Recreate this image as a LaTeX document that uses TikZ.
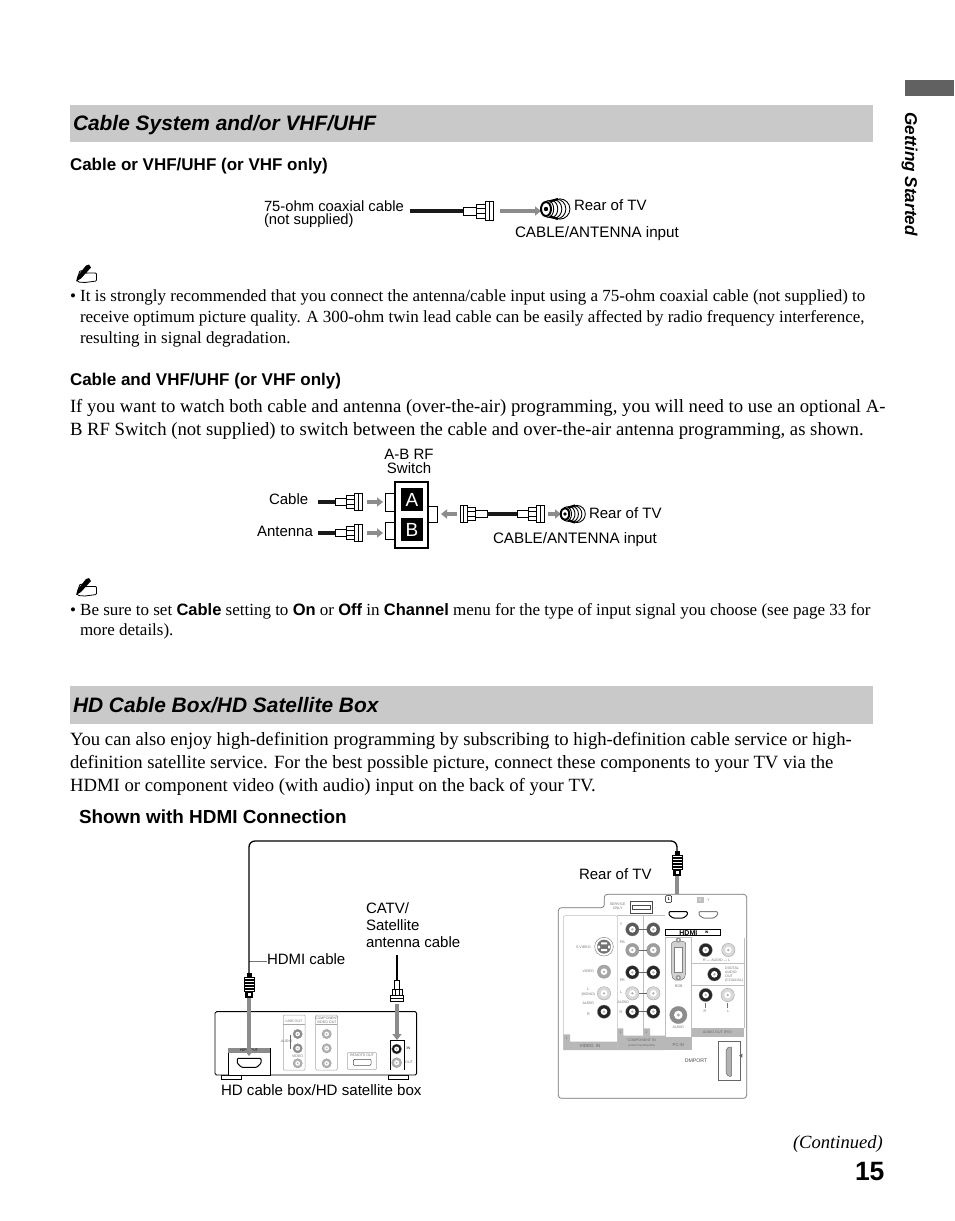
\documentclass[tikz,border=0pt]{standalone}
\usepackage{fontspec}
\setmainfont{Liberation Serif}
\setsansfont{Liberation Sans}
\usetikzlibrary{arrows.meta}
\definecolor{band}{gray}{0.79}
\definecolor{garr}{gray}{0.55}
\newcommand{\bodyf}{\fontsize{18.7}{22}\selectfont}
\newcommand{\notef}{\fontsize{17}{20}\selectfont}
\newcommand{\lab}{\fontsize{15}{15}\selectfont\sffamily}
\newcommand{\tny}{\fontsize{3.6}{4}\selectfont\sffamily}
\newcommand{\bsf}[1]{{\fontsize{16.5}{20}\selectfont\sffamily\bfseries #1}}
\tikzset{
  x=1pt,y=-1pt,
  txt/.style={anchor=base west,inner sep=0pt,outer sep=0pt},
  bandbox/.style={fill=band,draw=none},
  sect/.style={txt,font=\fontsize{20.9}{24}\selectfont\sffamily\bfseries\itshape},
  subh/.style={txt,font=\fontsize{17}{20}\selectfont\sffamily\bfseries},
  body/.style={txt,font=\bodyf},
  notet/.style={txt,font=\notef},
  labt/.style={txt,font=\lab},
  tinyt/.style={inner sep=0pt,font=\tny,text=black!55},
  garrow/.style={draw=garr,line width=3.6pt,-{Triangle[length=6pt,width=9pt]},shorten >=0pt},
  fconn/.pic={
    \draw[line width=.8pt,fill=white] (0,-4) rectangle (13,4);
    \draw[line width=.8pt,fill=white] (13,-7) rectangle (23,7);
    \draw[line width=.6pt] (13,-3) -- (23,-3) (13,2) -- (23,2);
    \draw[line width=.8pt,fill=white] (22,-9.5) rectangle (30,9.5);
    \draw[line width=.6pt] (26,-9.5) -- (26,9.5);
  },
  rearjack/.pic={
    \foreach \i in {14,11,8,5,2}{
      \draw[line width=.9pt,fill=white] (\i,0) ellipse ({5+\i*.35} and {8+\i*.15});
    }
    \draw[line width=2pt,fill=white] (0,0) ellipse (5 and 7);
    \fill (0,0) circle (2.2);
    \draw[line width=2.2pt] (4,-7.5) -- (12,-10) (4,7.5) -- (12,10);
  },
  hdmiplug/.pic={
    \fill (-2.5,-1) rectangle (2.5,3);
    \draw[line width=.8pt,fill=white] (-5,3) rectangle (5,17);
    \foreach \yy in {6,9,12,15}{\draw[line width=1.3pt] (-5,\yy) -- (5,\yy);}
    \fill (-3.6,17) rectangle (3.6,24);
    \fill[white] (-1.5,19) rectangle (1.5,22);
  },
  notehand/.pic={
    \draw[line width=.8pt,fill=white,rounded corners=1pt] (2,15) -- (5,6) -- (10,7) -- (11,8.5) -- (21.5,8.5) -- (21.5,16.5) -- (10,18) -- (3,17.5) -- cycle;
    \fill (14,0) -- (16,3) -- (6,14) -- (1,17) -- (3,11) -- (11,1) -- cycle;
  }
}
% RCA jack in 1/3 px coordinates: x, y, radius, ring colour
\newcommand{\jack}[4]{%
  \fill[#4] (#1,#2) circle (#3);
  \fill[white] (#1,#2) circle ({#3*.5});
  \draw[black!45,line width=.25pt] (#1,#2) circle (#3);
  \fill[black!30] (#1,#2) circle ({#3*.2});
}
\begin{document}
\begin{tikzpicture}
\useasboundingbox (0,0) rectangle (954,1221);
\fill[white] (0,0) rectangle (954,1221);

% side tab
\fill[black!62] (905,80) rectangle (954,96);
\node[font=\fontsize{17.1}{18}\selectfont\sffamily\bfseries\itshape,rotate=-90,anchor=base west,inner sep=0pt] (side) at (905,112) {Getting Started};

% section 1
\fill[bandbox] (70,105) rectangle (873,142);
\node[sect] (s1) at (73,130) {Cable System and/or VHF/UHF};
\node[subh] (h1) at (70,170) {Cable or VHF/UHF (or VHF only)};

% coax diagram 1
\node[labt,font=\fontsize{14.8}{15}\selectfont\sffamily] (l1a) at (264,211) {75-ohm coaxial cable};
\node[labt,font=\fontsize{14.8}{15}\selectfont\sffamily] (l1b) at (264,224) {(not supplied)};
\node[labt] (l1c) at (574,210) {Rear of TV};
\node[labt,font=\fontsize{15.2}{15}\selectfont\sffamily] (l1d) at (515,237) {CABLE/ANTENNA input};
\coordinate (c1s) at (410,211);
\coordinate (c1e) at (463,211);
\draw[line width=3.6pt,black!90] (c1s) -- (c1e);
\pic at (c1e) {fconn};
\coordinate (a1s) at (500,211);
\coordinate (a1e) at (541,211);
\draw[garrow] (a1s) -- (a1e);
\pic at (546,209) {rearjack};

% note 1
\pic at (75,264.5) {notehand};
\node[notet] (t1) at (70,301) {• It is strongly recommended that you connect the antenna/cable input using a 75-ohm coaxial cable (not supplied) to};
\node[notet] (t2) at (80,322) {receive optimum picture quality. A 300-ohm twin lead cable can be easily affected by radio frequency interference,};
\node[notet] (t3) at (80,343) {resulting in signal degradation.};

\node[subh] (h2) at (70,385) {Cable and VHF/UHF (or VHF only)};
\node[body] (b1) at (70,412) {If you want to watch both cable and antenna (over-the-air) programming, you will need to use an optional A-};
\node[body] (b2) at (70,435) {B RF Switch (not supplied) to switch between the cable and over-the-air antenna programming, as shown.};

% A-B switch
\node[labt,anchor=base] (s1a) at (409,459) {A-B RF};
\node[labt,anchor=base] (s1b) at (409,473) {Switch};
\node[labt] (lc) at (269,504) {Cable};
\node[labt] (la) at (257,536) {Antenna};
\draw[line width=1pt,fill=white] (385,493) rectangle (395,511);
\draw[line width=1pt,fill=white] (385,522) rectangle (395,539);
\draw[line width=1pt,fill=white] (428,506) rectangle (437,522);
\draw[line width=1.3pt,fill=white] (395,482) rectangle (428,548);
\node[fill=black,text=white,minimum width=22pt,minimum height=23pt,inner sep=0pt,font=\fontsize{19}{20}\selectfont\sffamily] (A) at (412,499.5) {A};
\node[fill=black,text=white,minimum width=22pt,minimum height=23pt,inner sep=0pt,font=\fontsize{19}{20}\selectfont\sffamily] (B) at (412,529.5) {B};
\coordinate (cs) at (318,502); \coordinate (ce) at (335,502);
\draw[line width=3.4pt,black!90] (cs) -- (ce);
\pic[scale=.9] at (ce) {fconn};
\coordinate (as) at (318,533); \coordinate (ae) at (335,533);
\draw[line width=3.4pt,black!90] (as) -- (ae);
\pic[scale=.9] at (ae) {fconn};
\draw[garrow] (367,502) -- (383,502);
\draw[garrow] (367,533) -- (383,533);
\draw[garrow] (457,514) -- (441,514);
\coordinate (rs) at (487,514); \coordinate (re) at (517,514);
\pic[xscale=-.9,yscale=.9] at (rs) {fconn};
\draw[line width=3.4pt,black!90] (rs) -- (re);
\pic[scale=.9] at (re) {fconn};
\draw[garrow] (548,514) -- (561,514);
\pic[scale=.85] at (565,514) {rearjack};
\node[labt] (r2) at (589,518) {Rear of TV};
\node[labt,font=\fontsize{15.2}{15}\selectfont\sffamily] (r3) at (493,543) {CABLE/ANTENNA input};

% note 2
\pic at (75,578) {notehand};
\node[notet] (t4) at (70,615) {• Be sure to set \bsf{Cable} setting to \bsf{On} or \bsf{Off} in \bsf{Channel} menu for the type of input signal you choose (see page 33 for};
\node[notet] (t5) at (80,635) {more details).};

% section 2
\fill[bandbox] (70,686) rectangle (873,724);
\node[sect] (s2) at (73,712) {HD Cable Box/HD Satellite Box};
\node[body] (b3) at (70,745) {You can also enjoy high-definition programming by subscribing to high-definition cable service or high-};
\node[body] (b4) at (70,768) {definition satellite service. For the best possible picture, connect these components to your TV via the};
\node[body] (b5) at (70,791) {HDMI or component video (with audio) input on the back of your TV.};
\node[txt,font=\fontsize{18.9}{20}\selectfont\sffamily\bfseries] (h3) at (79,823) {Shown with HDMI Connection};

% labels of lower diagram
\node[labt] (lr) at (579,879) {Rear of TV};
\node[labt] (lh) at (267,964) {HDMI cable};
\node[labt] (lcat1) at (366,913) {CATV/};
\node[labt] (lcat2) at (366,930) {Satellite};
\node[labt] (lcat3) at (366,947) {antenna cable};
\node[labt,font=\fontsize{15.1}{15}\selectfont\sffamily] (lbox) at (221,1095) {HD cable box/HD satellite box};
\coordinate (hl) at (249,961);
\draw[line width=1pt,black!55] (hl) -- (lh.west |- hl);

% HD box, coordinates in 1/3 px
\begin{scope}[shift={(205,960)},x=.33333pt,y=-.33333pt]
  \draw[line width=.7pt] (50,345) rectangle (110,358);
  \draw[line width=.7pt] (550,345) rectangle (610,358);
  \draw[line width=.9pt,fill=white,rounded corners=1.5pt] (30,345) -- (30,155) -- (635,155) -- (635,345) -- cycle;
  % HDMI OUT
  \draw[line width=.5pt,fill=white] (70,265) rectangle (195,345);
  \fill[black!45] (70,265) rectangle (195,280);
  \node[tinyt,text=black] (ho) at (132,272) {HDMI OUT};
  \draw[line width=1pt,fill=white,rounded corners=1pt] (97,295) -- (168,295) -- (168,310) -- (155,322) -- (110,322) -- (97,310) -- cycle;
  % line out
  \draw[black!35,line width=.5pt,rounded corners=1pt] (235,165) rectangle (300,330);
  \draw[black!35,line width=.5pt] (235,192) -- (300,192);
  \node[tinyt] (lo) at (267,183) {LINE OUT};
  \jack{278}{222}{14}{black!45}
  \jack{278}{265}{14}{black!45}
  \jack{278}{310}{14}{black!30}
  \draw[black!60,line width=.4pt] (258,225) -- (255,225) -- (255,265) -- (258,265);
  \node[tinyt] (lo2) at (245,245) {AUDIO};
  \node[tinyt] (lo3) at (278,290) {VIDEO};
  % component
  \draw[black!35,line width=.5pt,rounded corners=1pt] (332,165) rectangle (397,330);
  \draw[black!35,line width=.5pt] (332,192) -- (397,192);
  \node[tinyt,align=center] (co) at (365,180) {COMPONENT\\VIDEO OUT};
  \jack{365}{222}{14}{black!30}
  \jack{365}{265}{14}{black!30}
  \jack{365}{310}{14}{black!30}
  % remote
  \draw[black!35,line width=.5pt,rounded corners=1pt] (427,278) rectangle (515,328);
  \node[tinyt] (re1) at (471,285) {REMOTE OUT};
  \draw[black!70,line width=.5pt,rounded corners=1pt] (445,298) rectangle (498,316);
  % in/out
  \fill[white] (555,242) rectangle (597,330);
  \draw[line width=1pt] (555,330) -- (555,242) -- (597,242) -- (597,330);
  \jack{575}{267}{15}{black!90}
  \jack{575}{308}{15}{black!30}
  \node[tinyt,text=black] (ii) at (610,265) {IN};
  \node[tinyt] (io) at (612,308) {OUT};
\end{scope}

% HDMI cable
\coordinate (p1) at (249,974);
\coordinate (p2) at (677,852);
\draw[line width=1.3pt,rounded corners=6pt] (p1) -- (249,841) -- (677,841) -- (p2);
\pic at (p1) {hdmiplug};
\pic at (p2) {hdmiplug};
\draw[garrow] (249,998) -- (249,1056);
\draw[garrow] (677,876) -- (677,911);

% Coax to box
\coordinate (q1) at (397,955);
\coordinate (q2) at (397,980);
\draw[line width=2.6pt] (q1) -- (q2);
\pic[rotate=-90,scale=.72] at (q2) {fconn};
\draw[garrow] (397,1004) -- (397,1040);

% TV panel, coordinates in 1/3 px
\begin{scope}[shift={(555,885)},x=.33333pt,y=-.33333pt]
  \fill[white] (10,640) rectangle (575,28);
  \draw[black!55,line width=.7pt,rounded corners=3pt] (10,640) -- (10,68) -- (148,68) -- (148,28) -- (575,28) -- (575,640) -- cycle;
  % VIDEO IN
  \draw[black!25,line width=.5pt,rounded corners=1.5pt] (25,495) -- (25,92) -- (187,92) -- (187,495);
  \fill[black!28] (25,495) -- (25,448) -- (45,448) -- (45,470) -- (187,470) -- (187,495) -- cycle;
  \node[tinyt,text=black!60,font=\fontsize{4.4}{5}\selectfont\sffamily] (vin) at (105,483) {VIDEO\ \ IN};
  \node[tinyt] (v1) at (35,460) {1};
  \node[tinyt] (sv) at (85,188) {S VIDEO};
  \node[tinyt] (vd) at (100,260) {VIDEO};
  \node[tinyt] (ml) at (100,312) {L};
  \node[tinyt] (mm) at (100,328) {(MONO)};
  \node[tinyt] (ma) at (100,355) {AUDIO};
  \node[tinyt] (mr) at (100,387) {R};
  \draw[black!45,line width=.5pt,fill=white] (147,185) circle (28);
  \fill[black!55] (147,185) circle (21);
  \fill[white] (138,172) rectangle (156,178) (138,192) rectangle (156,198) (128,182) rectangle (135,190) (159,182) rectangle (166,190);
  \jack{147}{260}{20}{black!35}
  \jack{147}{325}{20}{black!15}
  \jack{147}{380}{20}{black!85}
  % COMPONENT
  \draw[black!25,line width=.5pt,rounded corners=1.5pt] (187,92) -- (330,92) (265,92) -- (265,450);
  \fill[black!28] (187,495) -- (187,430) -- (205,430) -- (205,452) -- (265,452) -- (265,430) -- (285,430) -- (285,452) -- (330,452) -- (330,495) -- cycle;
  \node[tinyt,text=black!60] (cin) at (260,467) {COMPONENT IN};
  \node[tinyt,text=black!60,font=\fontsize{2.6}{3}\selectfont\sffamily] (cin2) at (260,481) {(1080i/720p/480p/480i)};
  \node[tinyt] (c1n) at (197,442) {1};
  \node[tinyt] (c2n) at (275,442) {2};
  \foreach \xx in {232,295}{
    \jack{\xx}{133}{20}{black!65}
    \jack{\xx}{195}{20}{black!38}
    \jack{\xx}{262}{20}{black!85}
    \jack{\xx}{325}{20}{black!15}
    \jack{\xx}{380}{20}{black!85}
  }
  \foreach \yy in {133,195,262,325,380}{\draw[black!60,line width=.4pt] (252,\yy) -- (275,\yy);}
  \node[tinyt] (cy) at (198,118) {Y};
  \node[tinyt] (cb) at (202,172) {PB};
  \node[tinyt] (cr) at (202,285) {PR};
  \node[tinyt] (cl) at (198,322) {L};
  \node[tinyt] (ca) at (205,353) {AUDIO};
  \node[tinyt] (cr2) at (198,383) {R};
  % HDMI
  \draw[line width=.5pt,rounded corners=1pt] (332,32) rectangle (350,52);
  \node[inner sep=0pt,font=\fontsize{4}{5}\selectfont\sffamily\bfseries] (h1n) at (341,42) {1};
  \fill[black!25] (425,35) rectangle (447,55);
  \node[inner sep=0pt,font=\fontsize{4}{5}\selectfont\sffamily,text=white] (h2n) at (436,45) {2};
  \node[tinyt] (h2y) at (460,45) {Y};
  \draw[line width=1pt,fill=white,rounded corners=1pt] (342,80) -- (397,80) -- (397,90) -- (385,99) -- (354,99) -- (342,90) -- cycle;
  \draw[black!50,line width=1pt,fill=white,rounded corners=1pt] (432,80) -- (488,80) -- (488,90) -- (476,99) -- (444,99) -- (432,90) -- cycle;
  \draw[line width=.7pt,fill=white] (332,133) rectangle (497,152);
  \node[inner sep=0pt,font=\fontsize{7}{7}\selectfont\sffamily\bfseries] (hd) at (400,143) {HDMI};
  \node[inner sep=0pt,font=\fontsize{3.5}{4}\selectfont\sffamily\bfseries] (hi) at (455,141) {IN};
  % SERVICE ONLY
  \node[tinyt,align=center] (so) at (188,64) {SERVICE\\ONLY};
  \draw[black!70,line width=.6pt] (226,50) rectangle (292,85);
  \draw[black!70,line width=.6pt] (233,60) rectangle (287,74);
  % PC IN
  \draw[black!25,line width=.5pt] (330,455) -- (330,158) -- (410,158) -- (410,455);
  \fill[black!28] (330,455) rectangle (410,495);
  \node[tinyt,text=black!60,font=\fontsize{4.2}{5}\selectfont\sffamily] (pc) at (370,481) {PC IN};
  \draw[black!55,line width=.5pt,fill=black!18,rounded corners=2pt] (350,170) -- (392,170) -- (392,270) -- (385,285) -- (355,285) -- (350,270) -- cycle;
  \fill[black!40] (370,165) circle (8) (370,278) circle (8);
  \fill[white] (370,165) circle (3) (370,278) circle (3);
  \draw[black!50,line width=.5pt,fill=white] (358,188) rectangle (382,262);
  \node[tinyt] (rgb) at (371,305) {RGB};
  \jack{370}{390}{26}{black!45}
  \node[tinyt] (pa) at (370,428) {AUDIO};
  % audio panels
  \draw[black!25,line width=.5pt] (410,235) -- (568,235) -- (568,160) (410,300) -- (568,300) (568,235) -- (568,428);
  \jack{452}{195}{20}{black!85}
  \jack{520}{195}{20}{black!15}
  \node[tinyt] (ra) at (485,226) {R — AUDIO — L};
  \jack{478}{268}{20}{black!85}
  \node[tinyt,align=left,anchor=west] (dg) at (510,268) {DIGITAL\\AUDIO\\OUT\\(COAXIAL)};
  \jack{452}{330}{20}{black!85}
  \jack{518}{330}{20}{black!15}
  \node[tinyt] (ar) at (450,378) {R};
  \node[tinyt] (al) at (520,378) {L};
  \draw[black!55,line width=.4pt] (452,355) -- (452,368) (518,355) -- (518,368);
  \fill[black!28] (410,428) rectangle (568,455);
  \node[tinyt,text=black!60] (ao) at (487,442) {AUDIO OUT (FIX)};
  % DMPORT
  \node[inner sep=0pt,font=\fontsize{5.2}{6}\selectfont\sffamily,text=black!70] (dm) at (423,527) {DMPORT};
  \draw[black!60,line width=.7pt,fill=white] (490,468) rectangle (556,586);
  \draw[black!60,line width=.5pt,fill=black!30,rounded corners=2pt] (513,490) -- (530,484) -- (530,576) -- (513,570) -- cycle;
  \fill[black!60] (552,512) -- (562,506) -- (562,518) -- cycle;
\end{scope}

\node[txt,font=\fontsize{18.6}{20}\selectfont\itshape] (cont) at (793,1148) {(Continued)};
\node[txt,font=\fontsize{26.5}{28}\selectfont\sffamily\bfseries] (pg) at (855,1180) {15};
\end{tikzpicture}
\end{document}
